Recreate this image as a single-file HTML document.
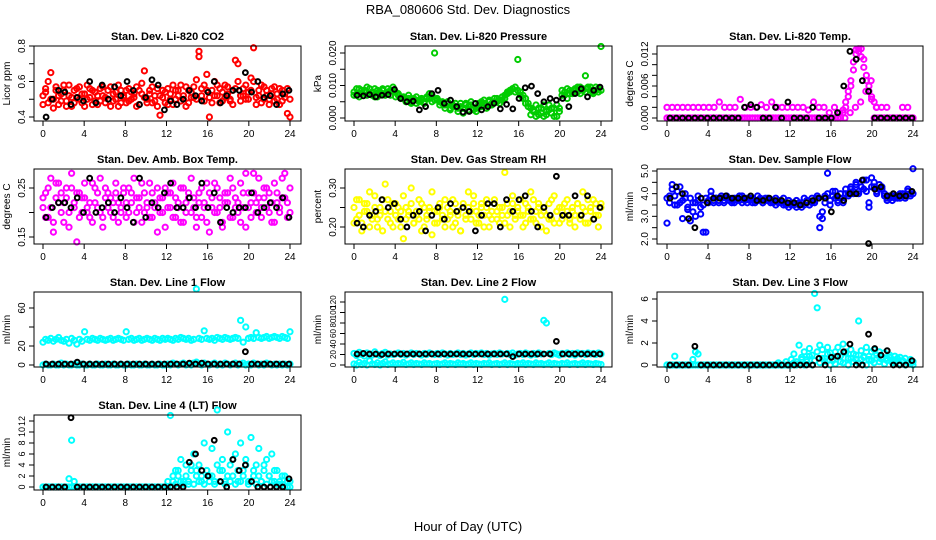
<!DOCTYPE html>
<html><head><meta charset="utf-8"><style>
body{margin:0;background:#fff}
svg{display:block;font-family:"Liberation Sans",sans-serif}
</style></head><body>
<svg id="chart" width="936" height="540" viewBox="0 0 936 540">
<rect width="936" height="540" fill="#fff"/>
<text x="468" y="14" font-size="13" text-anchor="middle">RBA_080606  Std. Dev. Diagnostics</text>
<text x="468" y="531" font-size="13" text-anchor="middle">Hour of Day (UTC)</text>
</svg>
<script>
const co2A=[0.52,0.56,0.48,0.65,0.50,0.55,0.47,0.53,0.58,0.49,0.52,0.46,0.55,0.51,0.57,0.48,0.53,0.50,0.56,0.47,0.54,0.52,0.49,0.57,0.51,0.55,0.46,0.53,0.50,0.58,0.48,0.52,0.55,0.49,0.54,0.51,0.57,0.47,0.53,0.66,0.50,0.55,0.48,0.52,0.56,0.41,0.51,0.54,0.47,0.53,0.58,0.50,0.55,0.49,0.52,0.57,0.48,0.54,0.51,0.61,0.74,0.56,0.49,0.64,0.40,0.55,0.52,0.58,0.48,0.54,0.51,0.57,0.49,0.55,0.72,0.70,0.52,0.56,0.50,0.54,0.62,0.79,0.51,0.55,0.48,0.57,0.52,0.50,0.56,0.49,0.53,0.47,0.55,0.51,0.42,0.40];
const co2B=[0.47,0.54,0.60,0.50,0.45,0.57,0.52,0.49,0.55,0.46,0.58,0.51,0.48,0.56,0.50,0.53,0.46,0.58,0.51,0.55,0.49,0.47,0.56,0.52,0.48,0.50,0.57,0.49,0.54,0.46,0.55,0.51,0.48,0.56,0.50,0.53,0.46,0.55,0.59,0.51,0.48,0.53,0.57,0.49,0.46,0.52,0.55,0.48,0.56,0.50,0.47,0.55,0.52,0.58,0.50,0.46,0.55,0.51,0.57,0.50,0.77,0.52,0.58,0.55,0.51,0.48,0.60,0.52,0.56,0.49,0.58,0.53,0.50,0.47,0.56,0.60,0.49,0.52,0.58,0.50,0.55,0.60,0.47,0.52,0.58,0.50,0.55,0.47,0.53,0.57,0.50,0.56,0.49,0.53,0.56,0.50];
const co2K=[0.40,0.50,0.55,0.54,0.47,0.51,0.49,0.60,0.48,0.58,0.50,0.57,0.52,0.60,0.55,0.47,0.51,0.61,0.58,0.44,0.49,0.47,0.50,0.55,0.52,0.49,0.54,0.60,0.48,0.52,0.55,0.55,0.65,0.54,0.60,0.51,0.52,0.47,0.53,0.55];
const presA=[.008,.007,.009,.0075,.0085,.007,.009,.008,.0065,.0085,.0075,.009,.007,.008,.0085,.0095,.008,.007,.0065,.006,.0055,.007,.005,.006,.0045,.0055,.006,.005,.0065,.006,.007,.0055,.006,.005,.0045,.004,.005,.003,.004,.0035,.002,.0045,.003,.004,.0025,.005,.003,.002,.004,.005,.0045,.003,.0055,.004,.005,.006,.0045,.0055,.007,.008,.0085,.009,.0095,.018,.008,.007,.006,.0045,.003,.002,.004,.001,.003,.0005,.002,.004,.0015,.003,.0005,.002,.007,.008,.006,.0085,.0075,.009,.008,.0095,.0085,.013,.009,.0095,.008,.0085,.009,.022];
const presB=[.007,.009,.0065,.0085,.008,.0095,.0075,.007,.009,.0065,.008,.0085,.0075,.009,.007,.0085,.0065,.0075,.006,.0065,.005,.006,.0045,.0055,.0065,.005,.0055,.0045,.006,.0075,.005,.02,.0055,.004,.005,.003,.0045,.0025,.0035,.0045,.003,.0035,.0015,.0045,.0035,.004,.0025,.003,.0045,.0035,.0055,.004,.005,.0045,.006,.005,.0055,.0065,.006,.0075,.008,.009,.008,.0085,.007,.006,.0045,.0035,.001,.0025,.0005,.003,.0015,.004,.001,.0025,.003,.0005,.004,.003,.0085,.007,.009,.0075,.008,.0085,.0095,.0075,.009,.008,.0095,.0085,.0075,.0095,.008,.0085];
const presK=[.007,.0068,.0072,.0065,.007,.0072,.0088,.006,.005,.0052,.0025,.0035,.0075,.0085,.0045,.0055,.0035,.0018,.002,.0045,.0025,.0035,.0045,.0028,.0042,.0028,.006,.0093,.0098,.0075,.005,.006,.0055,.006,.0035,.0075,.009,.0065,.0085,.0095];
const tempA=[0,0,0,0,0,0,0,0,0,0,0,0,0,0,0,0,0,0,0,0,0,0,0,0,0,0,0,0,0,0,0,0,0,0,0,0,0,0,0,0,0,0,0,0,0,0,0,0,0,0,0,0,0,0,0,0,0,0,0,0,0,0,0,0,0,0,0,0,.001,.002,.004,.006,.009,.012,.0125,.013,.011,.008,.006,.004,.003,.002,0,0,0,0,0,0,0,0,0,0,0,0,0,0];
const tempB=[0,0,0,0,0,0,0,0,0,0,0,0,0,0,0,0,0,0,0,0,0,0,0,0,0,0,0,0,0,0,0,0,0,0,0,0,0,0,0,0,0,0,0,0,0,0,0,0,0,0,0,0,0,0,0,0,0,0,0,0,0,0,0,0,0,0,0,0,.0015,.003,.005,.007,.0105,.0128,.013,.0115,.0095,.007,.005,.0035,0,0,0,0,0,0,0,0,0,0,0,0,0,0,0,0];
const tempC=[.002,.002,.002,.002,.002,.002,.002,.002,.002,.002,.003,.002,.002,.002,.0035,.002,.002,.002,.0025,.002,.003,.002,.002,.002,.002,.002,.002,.0015,.003,.002,.002,.001,.002,.001,0,.001,.002,.003,.005,.007,.002,.002,.002,0,0,.002,.002,0];
const tempK=[0,0,0,0,0,0,0,0,0,0,0,0,.002,.0025,.002,0,0,.002,0,.003,0,0,0,.002,0,0,0,.001,.006,.0125,.011,.007,.005,0,0,0,0,0,0,0];
const ambA=[.21,.24,.19,.27,.18,.23,.26,.20,.22,.25,.17,.28,.21,.24,.19,.23,.26,.20,.22,.18,.25,.21,.27,.19,.23,.24,.20,.22,.26,.18,.21,.24,.19,.25,.22,.27,.20,.23,.18,.24,.21,.26,.19,.22,.25,.20,.23,.17,.24,.21,.26,.19,.22,.18,.25,.20,.23,.27,.21,.17,.24,.19,.22,.26,.16,.23,.20,.25,.21,.18,.24,.22,.27,.19,.23,.20,.26,.21,.17,.24,.22,.28,.20,.23,.19,.25,.21,.24,.18,.26,.22,.20,.27,.23,.19,.25];
const ambB=[.23,.19,.25,.21,.16,.26,.22,.24,.18,.23,.20,.25,.22,.14,.24,.20,.23,.21,.19,.26,.22,.24,.20,.17,.25,.21,.23,.19,.24,.22,.20,.25,.22,.20,.24,.18,.23,.21,.26,.20,.22,.19,.24,.21,.16,.23,.20,.25,.21,.24,.19,.23,.21,.25,.18,.22,.24,.20,.23,.19,.22,.25,.21,.18,.24,.21,.26,.20,.23,.17,.22,.24,.19,.25,.21,.22,.18,.24,.28,.21,.19,.24,.22,.27,.21,.23,.25,.20,.22,.18,.24,.21,.23,.28,.22,.20];
const ambK=[.19,.21,.22,.22,.21,.23,.20,.27,.20,.21,.22,.20,.23,.21,.18,.27,.19,.22,.21,.24,.26,.21,.21,.23,.21,.26,.21,.24,.18,.21,.20,.21,.21,.24,.20,.21,.22,.21,.23,.19];
const rhA=[.25,.22,.27,.21,.24,.26,.20,.23,.28,.22,.25,.19,.24,.27,.21,.26,.23,.25,.20,.28,.22,.24,.26,.21,.23,.27,.19,.25,.22,.24,.29,.21,.24,.26,.22,.20,.25,.23,.27,.21,.24,.19,.26,.23,.25,.22,.28,.24,.21,.26,.23,.25,.20,.24,.27,.22,.25,.23,.21,.26,.24,.28,.22,.25,.23,.20,.26,.24,.22,.27,.21,.25,.23,.24,.19,.26,.22,.28,.24,.21,.25,.23,.27,.22,.24,.20,.26,.23,.25,.21,.27,.24,.22,.26,.23,.25];
const rhB=[.21,.27,.23,.19,.26,.24,.29,.22,.25,.20,.23,.27,.31,.22,.24,.20,.26,.22,.24,.17,.25,.23,.30,.21,.24,.22,.26,.20,.23,.25,.18,.24,.21,.25,.23,.27,.22,.24,.20,.26,.23,.19,.25,.22,.29,.24,.26,.21,.23,.25,.20,.27,.23,.22,.26,.24,.21,.25,.34,.23,.20,.26,.23,.24,.27,.23,.21,.25,.29,.22,.24,.26,.20,.25,.23,.22,.27,.21,.24,.25,.22,.26,.24,.21,.25,.23,.26,.22,.29,.24,.21,.25,.27,.23,.20,.26];
const rhK=[.21,.20,.23,.24,.27,.25,.26,.22,.20,.23,.24,.19,.23,.25,.22,.26,.24,.25,.24,.19,.23,.26,.26,.20,.27,.24,.27,.28,.24,.20,.25,.23,.33,.23,.23,.28,.23,.28,.22,.25];
const flowA=[3.8,3.6,4.2,3.9,3.5,4.3,3.7,4.0,3.4,3.8,3.2,3.6,3.9,3.1,3.5,2.3,3.7,3.9,3.6,3.8,3.7,3.9,3.6,3.8,3.7,3.6,3.8,3.7,3.9,3.6,3.7,3.8,3.8,3.6,3.7,3.9,3.7,3.6,3.8,3.7,3.6,3.7,3.8,3.6,3.7,3.5,3.6,3.7,3.5,3.6,3.4,3.5,3.6,3.5,3.7,3.5,3.6,3.7,3.8,2.5,3.2,3.9,4.9,3.5,3.9,4.1,3.7,3.8,3.6,4.0,3.9,4.2,4.1,4.4,4.0,4.3,4.2,4.6,3.6,4.7,4.3,4.1,4.4,4.2,4.0,3.8,3.9,3.7,3.9,3.8,4.0,3.9,3.8,4.1,4.0,5.1];
const flowB=[2.7,3.9,4.4,3.5,4.1,3.6,2.9,3.8,3.3,2.8,3.6,3.0,3.7,3.4,2.3,3.8,3.6,4.1,3.7,3.8,3.6,3.8,3.7,3.9,3.8,3.7,3.6,3.8,3.7,3.9,3.7,3.6,3.7,3.8,3.6,3.7,3.8,3.6,3.7,3.8,3.7,3.6,3.5,3.7,3.6,3.8,3.5,3.4,3.6,3.5,3.7,3.6,3.4,3.8,3.6,3.5,3.8,3.6,3.9,3.0,2.9,3.6,4.0,3.7,4.1,3.8,3.6,4.0,3.7,4.2,4.0,4.3,4.0,4.5,4.1,4.3,4.6,4.1,3.4,4.3,4.5,4.0,4.2,4.3,3.9,3.7,3.8,3.9,3.8,3.9,3.8,4.0,3.9,4.2,3.9,4.0];
const flowK=[3.8,4.3,4.0,2.9,2.5,3.8,3.6,3.8,3.8,3.9,3.8,3.8,3.8,3.9,3.7,3.7,3.8,3.7,3.7,3.6,3.6,3.5,3.6,3.7,3.8,3.8,3.2,3.9,3.7,4.0,4.0,4.6,1.8,4.2,4.3,3.9,4.0,3.9,3.9,4.1];
const l1A=[24,27,26,28,25,27,29,26,25,27,23,28,26,22,27,25,35,27,26,28,27,26,28,27,26,27,28,26,27,28,27,26,35,27,28,26,27,28,26,27,28,27,26,28,27,26,28,27,28,27,26,28,27,29,28,27,28,26,27,80,28,27,36,28,27,28,26,29,28,27,29,28,27,28,29,28,47,24,40,28,29,28,34,29,28,29,30,28,29,30,29,28,30,29,28,35];
const l1B=[0,1,0,0,1,0,0,2,0,1,0,0,1,0,0,1,0,0,1,0,0,1,0,0,1,0,0,1,0,0,1,0,0,1,0,0,1,0,0,1,0,0,1,0,0,1,0,0,1,0,2,1,0,1,2,0,1,0,2,3,1,0,2,1,0,1,2,0,1,0,2,1,0,1,2,0,1,2,0,1,0,2,1,0,1,0,2,1,0,1,0,1,0,1,0,1];
const l1K=[1,1,1,1,1,3,1,1,1,1,1,1,1,1,1,1,1,1,1,1,1,1,1,2,1,2,1,1,1,1,1,1,14,1,1,1,1,1,1,1];
const l2A=[22,18,24,20,17,23,21,19,25,20,18,22,24,19,21,20,21,23,20,22,19,21,23,20,22,21,19,22,20,23,21,20,22,20,23,21,19,22,20,21,23,20,22,19,21,23,20,22,21,23,20,22,19,21,22,20,23,21,125,22,20,23,19,21,22,20,23,21,19,22,20,23,21,85,80,22,20,23,21,19,22,21,23,20,22,19,23,21,22,20,23,21,22,20,23,21];
const l2B=[2,0,5,1,3,0,8,2,1,4,0,3,6,1,2,4,1,3,2,5,1,2,4,1,3,2,1,4,2,3,1,2,3,1,2,4,1,3,2,1,4,2,3,1,2,4,1,3,2,1,3,2,4,1,2,3,1,2,4,1,3,2,1,3,2,4,1,3,2,1,4,2,3,1,2,4,1,3,2,1,3,2,4,1,2,3,1,2,4,1,3,2,1,3,2,1];
const l2K=[21,22,21,21,20,21,21,21,21,21,21,21,21,21,21,21,21,21,21,21,21,21,21,21,21,16,21,21,21,21,21,21,45,21,21,21,21,21,21,21];
const l3A=[0,0,0,.8,0,0,0,0,0,0,.5,1.2,1,0,0,0,0,0,0,0,0,0,0,0,0,0,0,0,0,0,0,0,0,0,0,0,0,0,0,0,0,0,0,.2,0,0,.3,0,.5,1,.3,1.8,.7,1.2,.5,1.5,.9,6.5,5.2,1.8,1.4,.6,1.6,1.1,.5,1.2,1.6,.8,1.9,1.2,.6,1.4,1.0,.5,4,1.3,.8,1.6,.5,1.2,1.4,.9,1.2,.7,1.1,.6,.9,.5,.8,.4,.7,.3,.6,.2,.5,.3];
const l3B=[0,0,0,0,0,0,0,0,0,0,0,0,0,0,0,0,0,0,0,0,0,0,0,0,0,0,0,0,0,0,0,0,0,0,0,0,0,0,0,0,0,0,0,0,0,0,0,0,0,.2,0,.1,.5,0,.3,.8,0,.4,1.2,.2,.6,.3,1,0,.4,.1,.8,.3,.2,1.1,0,.6,.3,.9,.2,.5,.7,0,.8,.4,.2,.6,.3,.5,.1,.4,.7,.2,.3,.6,.1,.4,0,.2,.1,0];
const l3K=[0,0,0,0,1.7,0,0,0,0,0,0,0,0,0,0,0,0,0,0,0,0,0,0,0,0.6,0,0.7,0.8,1.2,1.9,0,0,2.8,1.5,0.9,1.3,0,0,0,0.4];
const l4A=[0,0,0,0,0,0,0,0,0,0,1.5,8.5,1,0,0,0,0,0,0,0,0,0,0,0,0,0,0,0,0,0,0,0,0,0,0,0,0,0,0,0,0,0,0,0,0,0,0,0,0,13,1,3,2,5,1,4,0.5,3,6,2,4,1,8,3,2,7,1,14,3,5,1,10,4,2,6,1,8,3,5,1,9,2,4,7,1,3,5,2,6,1,3,0.5,2,0,1,0];
const l4B=[0,0,0,0,0,0,0,0,0,0,0,0,0,0,0,0,0,0,0,0,0,0,0,0,0,0,0,0,0,0,0,0,0,0,0,0,0,0,0,0,0,0,0,0,0,0,0,0,1,0,2,0.5,3,1,0.5,2,1,4,0.5,3,1,2,0.5,3,1,2,0.5,4,1,3,0.5,2,1,5,0.5,3,1,2,4,0.5,1,3,0.5,2,1,4,0.5,2,1,3,0.5,1,0.5,2,0,1];
const l4K=[0,0,0,0,12.6,0,0,0,0,0,0,0,0,0,0,0,0,0,0,0,0,0,0,4.5,6,3,2,8.5,1,0,5,3,4,1,0,0,0,0,0,1.5];
const xTicks=[0,4,8,12,16,20,24];

const cols=[{b0:34,b1:301,a0:43,a1:290},{b0:345,b1:612,a0:354,a1:601},{b0:657,b1:923,a0:667,a1:913}];
const rowTops=[46,169,292,415];
const H=75;
const panels=[
 {n:'co2',c:0,r:0,t:'Stan. Dev. Li-820 CO2',yl:'Licor ppm',col:'#ff0000',s:[co2A,co2B],k:co2K,v1:0.4,p1:71,v2:0.8,p2:0,ticks:[0.4,0.5,0.6,0.7,0.8],labs:['0.4','','0.6','','0.8'],fs:10},
 {n:'pressure',c:1,r:0,t:'Stan. Dev. Li-820 Pressure',yl:'kPa',col:'#00cc00',s:[presA,presB],k:presK,v1:0,p1:72,v2:0.02,p2:7,ticks:[0,0.005,0.01,0.015,0.02],labs:['0.000','','0.010','','0.020'],fs:10},
 {n:'temp',c:2,r:0,t:'Stan. Dev. Li-820 Temp.',yl:'degrees C',col:'#ff00ff',s:[tempA,tempB,tempC],k:tempK,v1:0,p1:72,v2:0.012,p2:8,ticks:[0,0.002,0.004,0.006,0.008,0.010,0.012],labs:['0.000','','','0.006','','','0.012'],fs:10},
 {n:'amb-temp',c:0,r:1,t:'Stan. Dev. Amb. Box Temp.',yl:'degrees C',col:'#ff00ff',s:[ambA,ambB],k:ambK,v1:0.15,p1:68,v2:0.25,p2:19,ticks:[0.15,0.2,0.25],labs:['0.15','','0.25'],fs:10},
 {n:'rh',c:1,r:1,t:'Stan. Dev. Gas Stream RH',yl:'percent',col:'#ffff00',s:[rhA,rhB],k:rhK,v1:0.2,p1:58,v2:0.3,p2:19,ticks:[0.2,0.25,0.3],labs:['0.20','','0.30'],fs:10},
 {n:'sample-flow',c:2,r:1,t:'Stan. Dev. Sample Flow',yl:'ml/min',col:'#0000ff',s:[flowA,flowB],k:flowK,v1:2,p1:70,v2:5,p2:2,ticks:[2,2.5,3,3.5,4,4.5,5],labs:['2.0','','3.0','','4.0','','5.0'],fs:10},
 {n:'line1',c:0,r:2,t:'Stan. Dev. Line 1 Flow',yl:'ml/min',col:'#00ffff',s:[l1A,l1B],k:l1K,v1:0,p1:73,v2:60,p2:16,ticks:[0,20,40,60],labs:['0','20','','60'],fs:10},
 {n:'line2',c:1,r:2,t:'Stan. Dev. Line 2 Flow',yl:'ml/min',col:'#00ffff',s:[l2A,l2B],k:l2K,v1:0,p1:73,v2:120,p2:10,ticks:[0,20,40,60,80,100,120],labs:['0','20','40','60','80','100','120'],fs:8},
 {n:'line3',c:2,r:2,t:'Stan. Dev. Line 3 Flow',yl:'ml/min',col:'#00ffff',s:[l3A,l3B],k:l3K,v1:0,p1:73,v2:6,p2:7,ticks:[0,2,4,6],labs:['0','2','4','6'],fs:10},
 {n:'line4',c:0,r:3,t:'Stan. Dev. Line 4 (LT) Flow',yl:'ml/min',col:'#00ffff',s:[l4A,l4B],k:l4K,v1:0,p1:72,v2:12,p2:6,ticks:[0,2,4,6,8,10,12],labs:['0','2','4','6','8','10','12'],fs:9}
];
const NS='http://www.w3.org/2000/svg';
const svg=document.getElementById('chart');
function mk(tag,attrs,parent){const e=document.createElementNS(NS,tag);for(const k in attrs)e.setAttribute(k,attrs[k]);parent.appendChild(e);return e;}
panels.forEach(p=>{
 const C=cols[p.c],top=rowTops[p.r],bot=top+H;
 const xs=h=>C.a0+h*(C.a1-C.a0)/24;
 const ys=v=>top+p.p1+(v-p.v1)*(p.p2-p.p1)/(p.v2-p.v1);
 const g=mk('g',{},svg);
 
 
 const ti=mk('text',{x:(C.b0+C.b1)/2,y:top-6,'font-size':11,'font-weight':'bold','text-anchor':'middle'},g);ti.textContent=p.t;
 
 
 const pts=mk('g',{fill:'none','stroke-width':2},g);
 
 
 p.s.forEach(arr=>{arr.forEach((v,i)=>{const c=mk('circle',{cx:xs(i*24/(arr.length-1)),cy:ys(v),r:2.6,stroke:p.col},pts);
  
  });});
 p.k.forEach((v,i)=>{const c=mk('circle',{cx:xs(0.3+i*23.6/(p.k.length-1)),cy:ys(v),r:2.4,stroke:'#000'},pts);
  
  });
 const box=mk('rect',{x:C.b0,y:top,width:C.b1-C.b0,height:H,fill:'none',stroke:'#000','stroke-width':1},g);
 
 
 const ax=mk('g',{stroke:'#000','stroke-width':1},g);
 
 
 mk('line',{x1:xs(0),x2:xs(24),y1:bot,y2:bot},ax);
 xTicks.forEach(t=>{mk('line',{x1:xs(t),x2:xs(t),y1:bot,y2:bot+5},ax);
  const tx=mk('text',{x:xs(t),y:bot+16,'font-size':10,'text-anchor':'middle',stroke:'none'},g);tx.textContent=t;
  
  });
 p.ticks.forEach((t,i)=>{const y=ys(t);mk('line',{x1:C.b0,x2:C.b0-5,y1:y,y2:y},ax);
  if(p.labs[i]){const tx=mk('text',{x:C.b0-9,y:y,'font-size':p.fs,'text-anchor':'middle',transform:`rotate(-90 ${C.b0-9} ${y})`},g);tx.textContent=p.labs[i];
  
  }});
 const yl=C.b0-24,ym=top+H/2;
 const ylt=mk('text',{x:yl,y:ym,'font-size':10,'text-anchor':'middle',transform:`rotate(-90 ${yl} ${ym})`},g);ylt.textContent=p.yl;
 
 
});
</script>
</body></html>
